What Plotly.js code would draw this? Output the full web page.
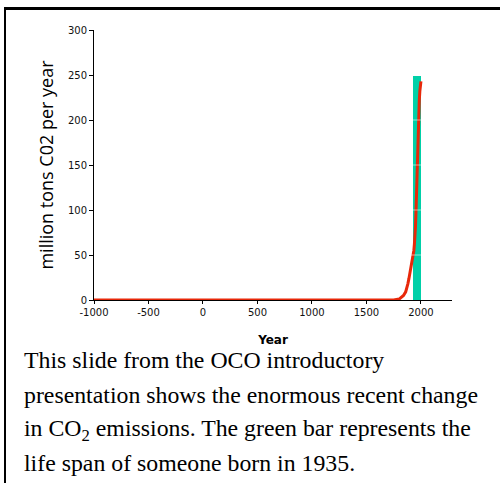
<!DOCTYPE html>
<html>
<head>
<meta charset="utf-8">
<script src="https://cdn.plot.ly/plotly-3.0.1.min.js"></script>
<style>
  html, body { margin:0; padding:0; background:#fff; }
  #wrap { position:relative; width:500px; height:483px; overflow:hidden; }
  #chart { position:absolute; left:0; top:0; width:500px; height:483px; }
  #frame { position:absolute; left:4px; top:7px; width:500px; height:480px;
           border-top:3px solid #000; border-left:2px solid #000; pointer-events:none; }
</style>
</head>
<body>
<div id="wrap">
  <div id="chart"></div>
  <div id="frame"></div>
</div>
<script>
// Emissions curve (year, million tons CO2 per year)
const years = [-1000, -500, 0, 500, 1000, 1500, 1750, 1800, 1820, 1840, 1860, 1870, 1880, 1890, 1900, 1905, 1910, 1915, 1920, 1925, 1930, 1935, 1940, 1945, 1950, 1955, 1960, 1965, 1970, 1975, 1980, 1985, 1990, 1995, 2000];
const emissions = [0, 0, 0, 0, 0, 0, 0, 1, 3, 5, 9, 13, 18, 24, 30, 34, 38, 41, 44, 47, 50, 55, 62, 70, 82, 100, 125, 150, 175, 195, 212, 222, 232, 238, 243];

// Green bar: life span of someone born in 1935
const lifeCenter = [1965];
const lifeWidth = [77];
const lifeHeight = [249];

const xTicks = [-1000, -500, 0, 500, 1000, 1500, 2000];
const yTicks = [0, 50, 100, 150, 200, 250, 300];
const gridLevels = [50, 100, 150, 200];

const captionLines = [
  "This slide from the OCO introductory",
  "presentation shows the enormous recent change",
  "in CO<sub>2</sub> emissions. The green bar represents the",
  "life span of someone born in 1935."
];

const traces = [
  {
    type: 'bar', x: lifeCenter, y: lifeHeight, width: lifeWidth,
    marker: { color: 'rgb(0,208,168)', line: { width: 0 } },
    hoverinfo: 'skip', showlegend: false
  },
  {
    type: 'scatter', mode: 'lines', x: years, y: emissions,
    line: { color: 'rgb(232,40,10)', width: 3 },
    showlegend: false
  }
];

const plotTop = 30, plotBottom = 300, plotLeft = 94, plotRight = 452;
const ph = plotBottom - plotTop;

const shapes = gridLevels.map(v => ({
  type: 'line', xref: 'paper', yref: 'y', x0: 0, x1: 1, y0: v, y1: v,
  line: { color: 'rgba(255,255,255,0.55)', width: 1 }, layer: 'above'
}));

const captionY = [360, 395, 430, 463];
const annotations = captionLines.map((t, i) => ({
  text: t, xref: 'paper', yref: 'paper',
  x: (22 - plotLeft) / (plotRight - plotLeft),
  y: (plotBottom - captionY[i]) / ph,
  xanchor: 'left', yanchor: 'middle', showarrow: false, align: 'left',
  font: { family: 'Liberation Serif, Times New Roman, serif', size: 23.8, color: '#000' }
}));

const layout = {
  width: 500, height: 483,
  margin: { l: plotLeft, r: 500 - plotRight, t: plotTop, b: 483 - plotBottom },
  paper_bgcolor: 'rgba(0,0,0,0)', plot_bgcolor: '#fff',
  font: { family: 'DejaVu Sans, sans-serif', color: '#000' },
  xaxis: {
    range: [-1000, 2285], tickvals: xTicks, ticktext: xTicks.map(String),
    showgrid: false, zeroline: false, showline: true, linecolor: '#000', linewidth: 1,
    ticks: 'outside', ticklen: 3, tickcolor: '#000',
    tickfont: { size: 10, color: '#111' },
    title: { text: '<b>Year</b>', font: { size: 12, color: '#000' }, standoff: 18 }
  },
  yaxis: {
    range: [0, 300], tickvals: yTicks, ticktext: yTicks.map(String),
    showgrid: false, zeroline: false, showline: true, linecolor: '#000', linewidth: 1,
    ticks: 'outside', ticklen: 4, tickcolor: '#000',
    tickfont: { size: 10, color: '#111' },
    title: { text: 'million tons C02 per year', font: { family: 'Open Sans, sans-serif', size: 18, color: '#000' }, standoff: 9 }
  },
  bargap: 0,
  shapes: shapes,
  annotations: annotations
};

Plotly.newPlot('chart', traces, layout, { displayModeBar: false, staticPlot: true });
</script>
</body>
</html>
